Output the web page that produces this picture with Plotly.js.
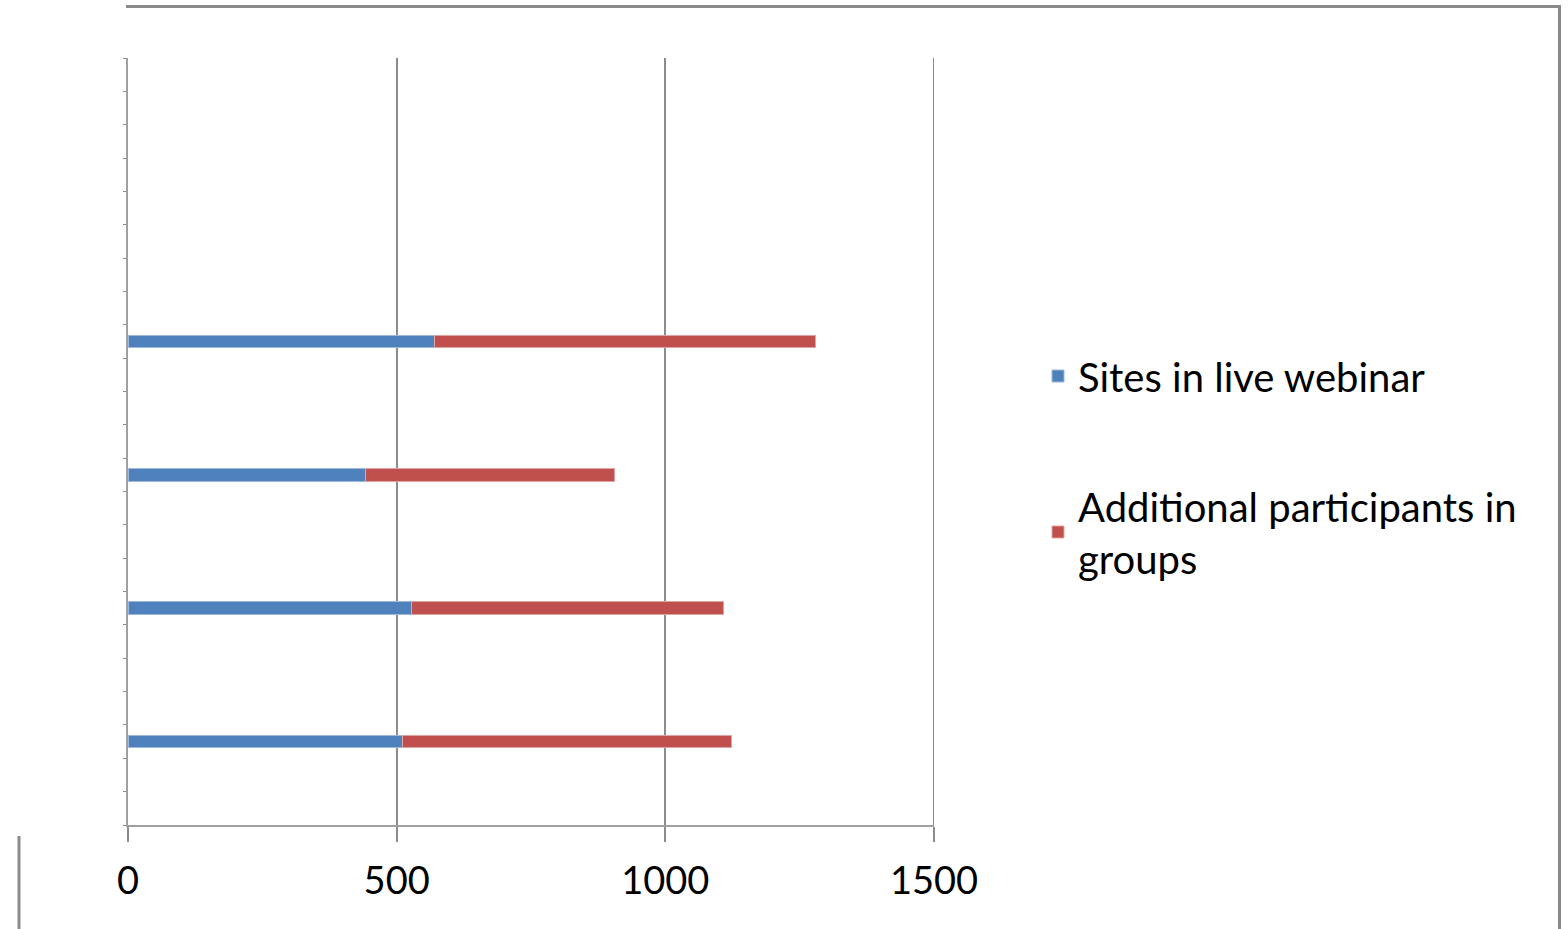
<!DOCTYPE html>
<html>
<head>
<meta charset="utf-8">
<script src="https://cdn.plot.ly/plotly-3.0.1.min.js"></script>
<style>
  html, body { margin: 0; padding: 0; background: #ffffff; }
  #chart { width: 1568px; height: 929px; }
</style>
</head>
<body>
<div id="chart"></div>
<script>
// Category slots (counted from the top of the axis, 23 slots in total)
const slotCount = 23;
const rowSlots = [8, 12, 16, 20];
// Series values, top row to bottom row
const sitesLive = [571, 442, 527, 511];
const additionalGroups = [709, 463, 581, 613];
const seriesNames = ['Sites in live webinar', 'Additional participants in<br>groups'];
const xTickValues = [0, 500, 1000, 1500];
const xTickLabels = ['0', '500', '1000', '1500'];

const W = 1568, H = 929;
const L = 128, R = 934, T = 58, B = 825;
const px = x => (x - L) / (R - L);
const py = y => (B - y) / (B - T);

const traces = [
  {
    type: 'bar', orientation: 'h',
    name: seriesNames[0], legendgroup: 'a',
    x: sitesLive, y: rowSlots, width: 0.38,
    marker: { color: '#4F81BD', line: { color: '#9DB8DC', width: 1 } },
    hoverinfo: 'x'
  },
  {
    type: 'bar', orientation: 'h',
    name: seriesNames[1], legendgroup: 'b',
    x: additionalGroups, y: rowSlots, width: 0.38,
    marker: { color: '#C0504D', line: { color: '#E0A4A2', width: 1 } },
    hoverinfo: 'x'
  }
];

const frameColor = '#8a8a8a';
const fontFamily = 'Lato, "Noto Sans", sans-serif';
const layout = {
  width: W, height: H,
  margin: { l: L, r: W - R, t: T, b: H - B, pad: 0 },
  paper_bgcolor: '#ffffff', plot_bgcolor: '#ffffff',
  barmode: 'stack',
  showlegend: true,
  font: { family: fontFamily, color: '#000000' },
  xaxis: {
    range: [0, 1500],
    tickvals: xTickValues, ticktext: xTickLabels,
    showgrid: true, gridcolor: '#8c8c8c', gridwidth: 2,
    zeroline: false,
    showline: true, linecolor: '#a0a0a0', linewidth: 2,
    ticks: 'outside', ticklen: 15, tickwidth: 2, tickcolor: '#8c8c8c',
    ticklabelstandoff: 6,
    tickfont: { size: 38, color: '#000000', family: fontFamily },
    fixedrange: true
  },
  yaxis: {
    range: [slotCount - 0.5, -0.5],
    tickmode: 'linear', tick0: -0.5, dtick: 1,
    showticklabels: false,
    showgrid: false, zeroline: false,
    showline: true, linecolor: '#a0a0a0', linewidth: 2,
    ticks: 'outside', ticklen: 3, tickwidth: 1, tickcolor: '#8c8c8c',
    fixedrange: true
  },
  legend: {
    x: px(1038), xanchor: 'left',
    y: py(467), yanchor: 'middle',
    bgcolor: 'rgba(0,0,0,0)', borderwidth: 0,
    traceorder: 'grouped', tracegroupgap: 75,
    font: { size: 40, color: '#000000', family: fontFamily },
    itemclick: false, itemdoubleclick: false
  },
  shapes: [
    // gridline at the right end of the value axis
    { type: 'line', xref: 'x', yref: 'paper', x0: xTickValues[3], x1: xTickValues[3], y0: 0, y1: 1,
      line: { color: '#8c8c8c', width: 2 } },
    // outer frame pieces
    { type: 'line', xref: 'paper', yref: 'paper', x0: px(126), x1: px(1561), y0: py(6.5), y1: py(6.5),
      line: { color: frameColor, width: 3 } },
    { type: 'line', xref: 'paper', yref: 'paper', x0: px(1559.5), x1: px(1559.5), y0: py(5), y1: py(929),
      line: { color: frameColor, width: 3 } },
    { type: 'line', xref: 'paper', yref: 'paper', x0: px(19), x1: px(19), y0: py(836), y1: py(929),
      line: { color: frameColor, width: 3 } }
  ]
};

Plotly.newPlot('chart', traces, layout, { displayModeBar: false, staticPlot: true });
</script>
</body>
</html>
